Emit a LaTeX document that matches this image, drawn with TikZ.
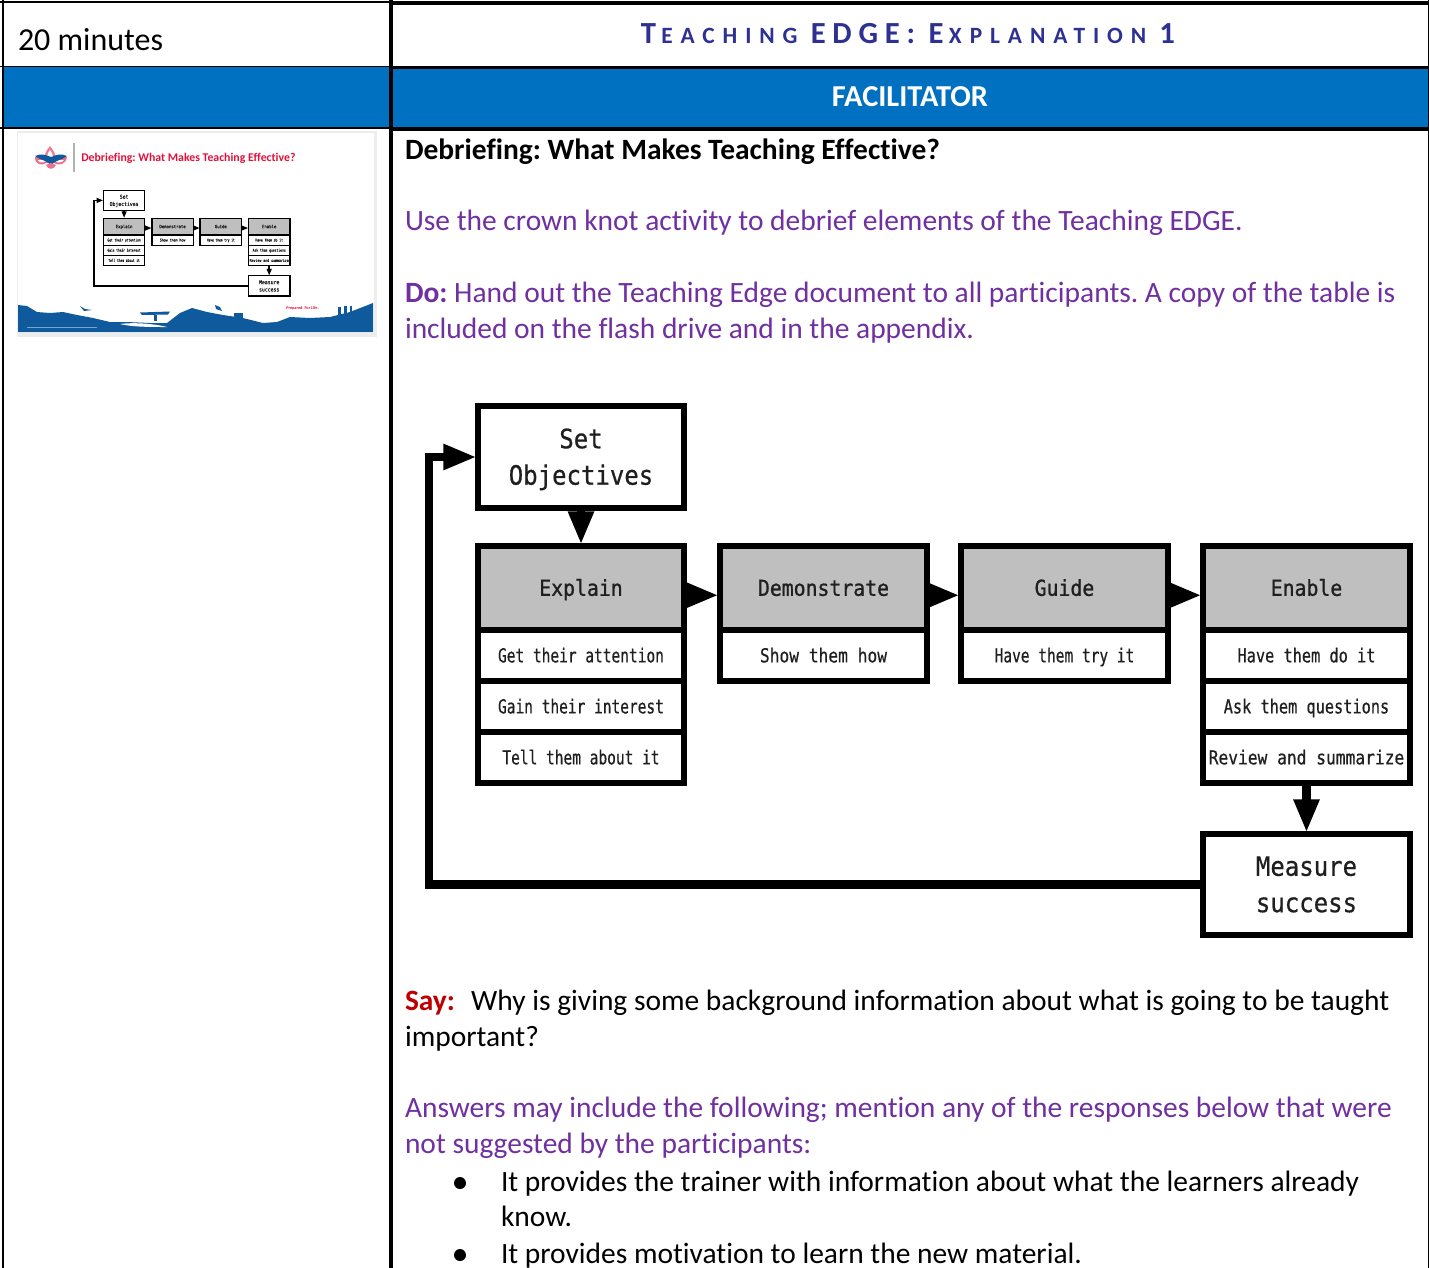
\documentclass[tikz,border=0pt]{standalone}
\usepackage{fontspec}
\usetikzlibrary{arrows.meta,calc}
\setmainfont[Ligatures=NoCommon]{Carlito}
\newfontfamily\flowbig[FakeStretch=0.9,FakeBold=0.6]{DejaVu Sans Mono}
\newfontfamily\flowhead[FakeStretch=0.9,FakeBold=0.9]{DejaVu Sans Mono}
\newfontfamily\flowrow[FakeStretch=0.75,FakeBold=0.5]{DejaVu Sans Mono}
\newfontfamily\flowrowm[FakeStretch=0.79,FakeBold=0.5]{DejaVu Sans Mono}
\newfontfamily\flowrowl[FakeStretch=0.84,FakeBold=0.5]{DejaVu Sans Mono}
\definecolor{tblblue}{HTML}{0070C0}
\definecolor{headink}{HTML}{2E3192}
\definecolor{notepurple}{HTML}{7030A0}
\definecolor{sayred}{HTML}{C00000}
\definecolor{cellgrey}{HTML}{BFBFBF}
\definecolor{bsablue}{HTML}{0F5A9C}
\definecolor{sliderose}{HTML}{E0103A}
\newcommand{\bodysize}{\fontsize{22.1pt}{27pt}\selectfont}
\newcommand{\cellstrut}{\rule{0pt}{0.95em}\rule[-0.24em]{0pt}{0.24em}}
\tikzset{
  x=0.75pt,y=-0.75pt,
  thinrule/.style={line width=1.3pt,black},
  thickrule/.style={line width=2.6pt,black},
  line/.style={anchor=base west,inner sep=0pt,outer sep=0pt,font=\bodysize},
  purple/.style={line,text=notepurple},
  slidetext/.style={anchor=base west,inner sep=0pt,text=sliderose},
}
% One box of the flow chart, given by its centre line corners
\newcommand{\cell}[7]{%
  \node[draw=black,line width=\flowlw,fill=#6,inner sep=0pt,outer sep=0pt,transform shape,
        minimum width={(#4-#2)*0.75pt},minimum height={(#5-#3)*0.75pt},align=center,
        text=black!88]
    (\fp#1) at ({(#2+#4)/2},{(#3+#5)/2}) {#7};}
% The whole flow chart; #1 = name prefix, #2 = size factor
\newcommand{\flowchart}[2]{%
  \def\fp{#1}%
  \pgfmathsetlengthmacro{\flowlw}{4.6pt*#2}%
  \pgfmathsetlengthmacro{\strokew}{6.5pt*#2}%
  \pgfmathsetlengthmacro{\tipL}{25pt*#2}%
  \pgfmathsetlengthmacro{\tipW}{18pt*#2}%
  \pgfmathsetlengthmacro{\halflw}{1pt*#2}%
  \tikzset{flowarrow/.style={line width=\strokew,black,-{Triangle[length=\tipL,width=\tipW]},shorten >=\halflw}}%
  \def\bg{\flowbig\fontsize{20pt}{27pt}\selectfont\cellstrut}%
  \def\hd{\flowhead\fontsize{16.5pt}{20pt}\selectfont\cellstrut}%
  \def\sm{\flowrow\fontsize{14.5pt}{20pt}\selectfont\cellstrut}%
  \def\smm{\flowrowm\fontsize{14.5pt}{20pt}\selectfont\cellstrut}%
  \def\sml{\flowrowl\fontsize{14.5pt}{20pt}\selectfont\cellstrut}%
  \cell{seto}{478}{406}{684}{508}{white}{\bg Set\\[2.5pt]\bg Objectives}
  \cell{expl}{478}{546}{684}{630}{cellgrey}{\hd Explain}
  \cell{expa}{478}{630}{684}{681}{white}{\sm Get their attention}
  \cell{expb}{478}{681}{684}{732}{white}{\sm Gain their interest}
  \cell{expc}{478}{732}{684}{783}{white}{\sm Tell them about it}
  \cell{demo}{720}{546}{927}{630}{cellgrey}{\hd Demonstrate}
  \cell{demb}{720}{630}{927}{681}{white}{\sml Show them how}
  \cell{guid}{961}{546}{1168}{630}{cellgrey}{\hd Guide}
  \cell{guib}{961}{630}{1168}{681}{white}{\sm Have them try it}
  \cell{enab}{1203}{546}{1410}{630}{cellgrey}{\hd Enable}
  \cell{enaa}{1203}{630}{1410}{681}{white}{\smm Have them do it}
  \cell{enbb}{1203}{681}{1410}{732}{white}{\smm Ask them questions}
  \cell{enac}{1203}{732}{1410}{783}{white}{\sml Review and summarize}
  \cell{meas}{1203}{834}{1410}{935}{white}{\bg Measure\\[2.5pt]\bg success}
  \coordinate (\fp retl) at (429,457);
  \draw[flowarrow] (\fp seto.south) -- (\fp expl.north);
  \draw[flowarrow] (\fp expl.-4.4) -- (\fp demo.184.4);
  \draw[flowarrow] (\fp demo.-4.4) -- (\fp guid.184.4);
  \draw[flowarrow] (\fp guid.-4.4) -- (\fp enab.184.4);
  \draw[flowarrow] (\fp enac.south) -- (\fp meas.north);
  \draw[flowarrow,line join=miter] (\fp meas.west) -| (\fp retl) -- (\fp seto.west);
}
\begin{document}
\frenchspacing
\begin{tikzpicture}
\useasboundingbox (0,0) rectangle (1429,1268);
\fill[white] (0,0) rectangle (1429,1268);

% Table shading and rules
\fill[tblblue] (3,67) rectangle (1429,128);
\draw[thinrule] (0,1.8) -- (390,1.8);
\draw[thinrule] (0,66.6) -- (390,66.6);
\draw[thinrule] (0,128) -- (390,128);
\draw[thickrule] (390,2.8) -- (1429,2.8);
\draw[thickrule] (390,67.5) -- (1429,67.5);
\draw[thickrule] (390,128.8) -- (1429,128.8);
\draw[line width=1.3pt] (3.1,0) -- (3.1,1268);
\draw[line width=3pt] (391,0) -- (391,1268);
\draw[line width=1.2pt] (1428.4,0) -- (1428.4,1268);

% Header cells
\node[line,font=\fontsize{24pt}{28pt}\selectfont] (mins) at (18,50.5) {20 minutes};
\node[anchor=base,inner sep=0pt,text=headink,font=\bfseries] (ttl) at (908,43) {%
  \addfontfeature{LetterSpace=34}\fontsize{23pt}{26pt}\selectfont T\kern4pt
  \fontsize{17.5pt}{26pt}\selectfont EACHING %
  \addfontfeature{LetterSpace=22}\fontsize{23pt}{26pt}\selectfont EDGE: E\kern4pt
  \addfontfeature{LetterSpace=34}\fontsize{17.5pt}{26pt}\selectfont XPLANATION %
  \fontsize{23pt}{26pt}\selectfont 1};
\node[anchor=base,inner sep=0pt,text=white,font=\bfseries\fontsize{22.8pt}{27pt}\selectfont] (fac) at (910,106.5) {FACILITATOR};

% Body copy
\node[line,font=\bfseries\bodysize] (t1) at (405,159.5) {Debriefing: What Makes Teaching Effective?};
\node[purple] (t2) at (405,230.5) {Use the crown knot activity to debrief elements of the Teaching EDGE.};
\node[purple] (t3) at (405,302.5) {\textbf{Do:} Hand out the Teaching Edge document to all participants. A copy of the table is};
\node[purple] (t4) at (405,338.5) {included on the flash drive and in the appendix.};
\node[line] (t5) at (405,1010.5) {\textcolor{sayred}{\textbf{Say:}}\hspace{0.55em}Why is giving some background information about what is going to be taught};
\node[line] (t6) at (405,1046.5) {important?};
\node[purple] (t7) at (405,1117.5) {Answers may include the following; mention any of the responses below that were};
\node[purple] (t8) at (405,1153.5) {not suggested by the participants:};
\fill (460,1183) circle (6);
\node[line] (t9) at (501,1191.5) {It provides the trainer with information about what the learners already};
\node[line] (t10) at (501,1226.5) {know.};
\fill (460,1255) circle (6);
\node[line] (t11) at (501,1263.5) {It provides motivation to learn the new material.};

% Main flow chart
\flowchart{m}{1}

% Slide thumbnail
\fill[black!7] (17,131) rectangle (377,337);
\fill[white] (18,133) rectangle (374,333);
\fill[bsablue] (18,332) -- (18,305) -- (27,306) -- (37,312) -- (50,313) -- (63,312) -- (77,315) -- (93,318) -- (110,322) -- (127,322) -- (150,323) -- (167,323) -- (180,313) -- (192,308) -- (207,312) -- (223,315) -- (243,318) -- (263,323) -- (277,322) -- (290,317) -- (310,318) -- (330,317) -- (350,312) -- (373,303) -- (373,332) -- cycle;
\fill[white] (120,324) .. controls (135,322) and (155,324) .. (167,327) .. controls (150,327) and (132,327) .. (120,324) -- cycle;
% Raft, bird, hikers and camp on the skyline
\fill[bsablue] (140,312.5) -- (170,311.5) -- (168,314.5) -- (142,315) -- cycle;
\fill[bsablue] (154,315) rectangle (157,321);
\fill[bsablue] (80,306) -- (85,309) -- (92,310) -- (84,311) -- cycle;
\fill[bsablue] (215,305) -- (220,307) -- (222,311) -- (216,309) -- cycle;
\fill[bsablue] (234,313) rectangle (243,318);
\fill[bsablue] (338,307) rectangle (341,316);
\fill[bsablue] (344,306) rectangle (347,315);
\fill[bsablue] (350,306) rectangle (352,313);
\fill[white!45!bsablue] (27,326.5) rectangle (97,328);
\draw[black!30,line width=1.1pt] (74,143) -- (74,172);
\node[slidetext,font=\bfseries\fontsize{8.85pt}{10pt}\selectfont] (st) at (81,161.5) {Debriefing: What Makes Teaching Effective?};
\node[slidetext,font=\bfseries\fontsize{3.2pt}{4pt}\selectfont] (sp) at (286,309.5) {Prepared. For Life.};
% Fleur-de-lis emblem
\fill[sliderose!55] (50,146) .. controls (46,151) and (45,154) .. (44,157) -- (56,157) .. controls (55,154) and (54,151) .. (50,146) -- cycle;
\fill[white] (50,150) .. controls (48,153) and (47,155) .. (47,157) -- (53,157) .. controls (53,155) and (52,153) .. (50,150) -- cycle;
\fill[sliderose!60] (35,157) .. controls (35,165) and (42,166) .. (46,163) -- (54,163) .. controls (58,166) and (66,165) .. (67,157) -- cycle;
\fill[white] (38,160) .. controls (39,163) and (43,163) .. (46,161) -- (54,161) .. controls (57,163) and (62,163) .. (64,160) -- cycle;
\fill[bsablue] (35,156) .. controls (41,153) and (46,155) .. (51,157) .. controls (56,155) and (61,153) .. (67,156) .. controls (62,160) and (56,160) .. (51,165) .. controls (46,160) and (40,160) .. (35,156) -- cycle;
\fill[sliderose!60] (46,165) .. controls (48,170) and (54,170) .. (56,165) -- (51,163) -- cycle;
% Small copy of the flow chart on the slide
\begin{scope}[shift={(7.9,109)},scale=0.2]
  \flowchart{s}{0.2}
\end{scope}
\end{tikzpicture}
\end{document}
